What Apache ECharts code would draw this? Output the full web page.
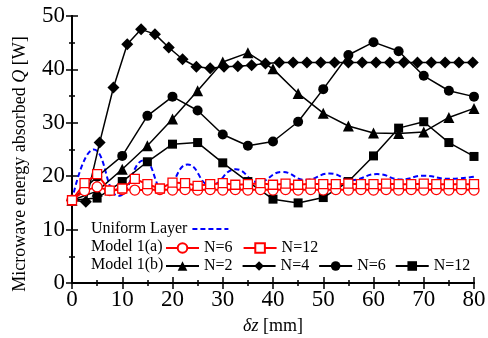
<!DOCTYPE html>
<html>
<head>
<meta charset="utf-8">
<script src="https://cdn.jsdelivr.net/npm/echarts@6/dist/echarts.min.js"></script>
<style>
  html, body { margin: 0; padding: 0; background: #fff; }
  #chart { width: 488px; height: 338px; }
</style>
</head>
<body>
<div id="chart"></div>
<script>
// x positions [mm]
const xStep25 = [0, 2.5, 5, 7.5, 10, 12.5, 15, 17.5, 20, 22.5, 25, 27.5, 30, 32.5, 35, 37.5, 40,
  42.5, 45, 47.5, 50, 52.5, 55, 57.5, 60, 62.5, 65, 67.5, 70, 72.5, 75, 77.5, 80];
const xStep5 = [0, 5, 10, 15, 20, 25, 30, 35, 40, 45, 50, 55, 60, 65, 70, 75, 80];
const xN4 = [0, 2.75, 5.5, 8.25, 11, 13.75, 16.5, 19.25, 22, 24.75, 27.5, 30.25, 33, 35.75, 38.5,
  41.25, 44, 46.75, 49.5, 52.25, 55, 57.75, 60.5, 63.25, 66, 68.75, 71.5, 74.25, 77, 79.75];

// uniform layer (smooth curve, peaks and troughs)
const uniformX = [0, 4.3, 9.2, 14.4, 18.3, 23, 27.5, 32.6, 37, 41.8, 46.5, 51.3, 55.7, 60.7, 65.5, 70, 75, 80];
const uniformQ = [15.5, 25.0, 16.3, 23.0, 17.3, 22.2, 18.3, 21.3, 18.9, 20.8, 19.3, 20.5, 19.3, 20.4, 19.4, 20.1, 19.5, 19.9];

// Model 1(a)
const m1aN6 = [15.5, 17.3, 18.0, 17.3, 17.5, 17.4, 17.4, 17.5, 17.4, 17.5, 17.4, 17.5, 17.4, 17.5, 17.4, 17.5, 17.4,
  17.5, 17.4, 17.5, 17.4, 17.5, 17.4, 17.5, 17.4, 17.5, 17.4, 17.5, 17.4, 17.5, 17.4, 17.5, 17.4];
const m1aN12 = [15.5, 18.7, 20.4, 17.3, 17.7, 19.5, 18.5, 17.7, 18.8, 18.7, 18.2, 18.5, 18.7, 18.4, 18.5, 18.7, 18.4,
  18.6, 18.4, 18.6, 18.5, 18.5, 18.6, 18.5, 18.5, 18.6, 18.5, 18.5, 18.6, 18.5, 18.5, 18.5, 18.5];

// Model 1(b)
const m1bN2 = [15.5, 17.2, 21.3, 25.7, 30.7, 36.0, 41.4, 43.1, 40.1, 35.5, 31.8, 29.4, 28.1, 28.0, 28.3, 31.0, 32.7];
const m1bN4 = [15.5, 15.2, 26.3, 36.6, 44.7, 47.5, 46.6, 44.1, 41.9, 40.5, 40.2, 40.5, 40.6, 40.8, 41.1,
  41.3, 41.3, 41.3, 41.3, 41.3, 41.3, 41.3, 41.3, 41.3, 41.3, 41.3, 41.3, 41.3, 41.3, 41.3];
const m1bN6 = [15.5, 19.9, 23.8, 31.3, 34.9, 32.3, 27.8, 25.7, 26.5, 30.2, 36.3, 42.7, 45.1, 43.4, 38.8, 36.0, 34.9];
const m1bN12 = [15.5, 15.9, 19.0, 22.7, 26.0, 26.3, 22.5, 19.0, 15.7, 15.0, 16.0, 19.0, 23.8, 29.0, 30.2, 26.3, 23.7];

const pair = (xs, ys) => xs.map((x, i) => [x, ys[i]]);

const chart = echarts.init(document.getElementById('chart'));
const serif = 'Liberation Serif';

const blackSeries = (name, sym, size, xs, ys) => ({
  name: name,
  type: 'line',
  data: pair(xs, ys),
  symbol: sym,
  symbolSize: size,
  lineStyle: { color: '#000', width: 1.5 },
  itemStyle: { color: '#000' },
  animation: false
});
const redSeries = (name, sym, size, xs, ys) => ({
  name: name,
  type: 'line',
  data: pair(xs, ys),
  symbol: sym,
  symbolSize: size,
  lineStyle: { color: '#ff0000', width: 2 },
  itemStyle: { color: '#fff', borderColor: '#ff0000', borderWidth: 1.3 },
  z: 3,
  animation: false
});

const fmt = name => name.indexOf(') ') > 0 ? name.split(' ')[1] : name;
const legendText = { color: '#000', fontFamily: serif, fontSize: 16 };

const option = {
  backgroundColor: '#fff',
  grid: { left: 72, right: 14, top: 16, bottom: 55, outerBoundsMode: 'none' },
  xAxis: [{
    type: 'value', min: 0, max: 80, interval: 10,
    axisLine: { lineStyle: { color: '#000', width: 2 } },
    axisTick: { inside: true, length: 6, lineStyle: { color: '#000', width: 1.5 } },
    minorTick: { show: true, splitNumber: 2, length: 3, lineStyle: { color: '#000', width: 1.5 } },
    splitLine: { show: false },
    axisLabel: { color: '#000', fontFamily: serif, fontSize: 23, margin: 5 },
    name: '{i|δz} [mm]',
    nameLocation: 'middle',
    nameGap: 34,
    nameTextStyle: { color: '#000', fontFamily: serif, fontSize: 18, rich: { i: { fontStyle: 'italic', fontFamily: serif, fontSize: 18 } } }
  }, {
    type: 'value', min: 0, max: 80, interval: 10, position: 'top',
    axisLine: { lineStyle: { color: '#000', width: 2 } },
    axisTick: { inside: true, length: 6, lineStyle: { color: '#000', width: 1.5 } },
    minorTick: { show: true, splitNumber: 2, length: 3, lineStyle: { color: '#000', width: 1.5 } },
    splitLine: { show: false },
    axisLabel: { show: false }
  }],
  yAxis: [{
    type: 'value', min: 0, max: 50, interval: 10,
    axisLine: { show: true, lineStyle: { color: '#000', width: 2 } },
    axisTick: { show: true, inside: true, length: 6, lineStyle: { color: '#000', width: 1.5 } },
    minorTick: { show: true, splitNumber: 2, length: 3, lineStyle: { color: '#000', width: 1.5 } },
    splitLine: { show: false },
    axisLabel: { color: '#000', fontFamily: serif, fontSize: 23, margin: 7 }
  }, {
    type: 'value', min: 0, max: 50, interval: 10, position: 'right',
    axisLine: { show: true, lineStyle: { color: '#000', width: 2 } },
    axisTick: { show: true, inside: true, length: 6, lineStyle: { color: '#000', width: 1.5 } },
    minorTick: { show: true, splitNumber: 2, length: 3, lineStyle: { color: '#000', width: 1.5 } },
    splitLine: { show: false },
    axisLabel: { show: false }
  }],
  legend: [{
    data: ['Uniform Layer'],
    left: 91, top: 221, padding: 0, align: 'right',
    itemWidth: 36, itemHeight: 12, itemGap: 12,
    itemStyle: { color: 'rgba(0,0,0,0)', borderColor: 'rgba(0,0,0,0)', borderWidth: 0 },
    textStyle: legendText,
    selectedMode: false
  }, {
    data: ['1(a) N=6', '1(a) N=12'],
    left: 165, top: 240, width: 320, padding: 0,
    itemWidth: 33, itemHeight: 12, itemGap: 10,
    formatter: fmt,
    textStyle: legendText,
    selectedMode: false
  }, {
    data: ['1(b) N=2', '1(b) N=4', '1(b) N=6', '1(b) N=12'],
    left: 165, top: 258, width: 320, padding: 0,
    itemWidth: 33, itemHeight: 12, itemGap: 9,
    formatter: fmt,
    textStyle: legendText,
    selectedMode: false
  }],
  graphic: [{
    type: 'text', left: 91, top: 239,
    style: { text: 'Model 1(a)', font: '16px "Liberation Serif"', fill: '#000' }
  }, {
    type: 'text', left: 91, top: 257,
    style: { text: 'Model 1(b)', font: '16px "Liberation Serif"', fill: '#000' }
  }, {
    type: 'text', x: 20, y: 164, rotation: Math.PI / 2,
    style: {
      text: 'Microwave energy absorbed {i|Q} [W]',
      font: '18px "Liberation Serif"', fill: '#000', align: 'center', verticalAlign: 'middle',
      rich: { i: { fontStyle: 'italic', fontFamily: serif, fontSize: 18 } }
    }
  }],
  series: [
    {
      name: 'Uniform Layer',
      type: 'line',
      data: pair(uniformX, uniformQ),
      symbol: 'none',
      smooth: 0.5,
      smoothMonotone: 'x',
      lineStyle: { color: '#0000ff', width: 2, type: [5, 3] },
      itemStyle: { color: '#0000ff' },
      z: 1,
      animation: false
    },
    blackSeries('1(b) N=2', 'triangle', 11, xStep5, m1bN2),
    blackSeries('1(b) N=4', 'diamond', 12, xN4, m1bN4),
    blackSeries('1(b) N=6', 'circle', 10, xStep5, m1bN6),
    blackSeries('1(b) N=12', 'rect', 9, xStep5, m1bN12),
    redSeries('1(a) N=6', 'circle', 10, xStep25, m1aN6),
    redSeries('1(a) N=12', 'rect', 9, xStep25, m1aN12)
  ]
};

chart.setOption(option);
</script>
</body>
</html>
